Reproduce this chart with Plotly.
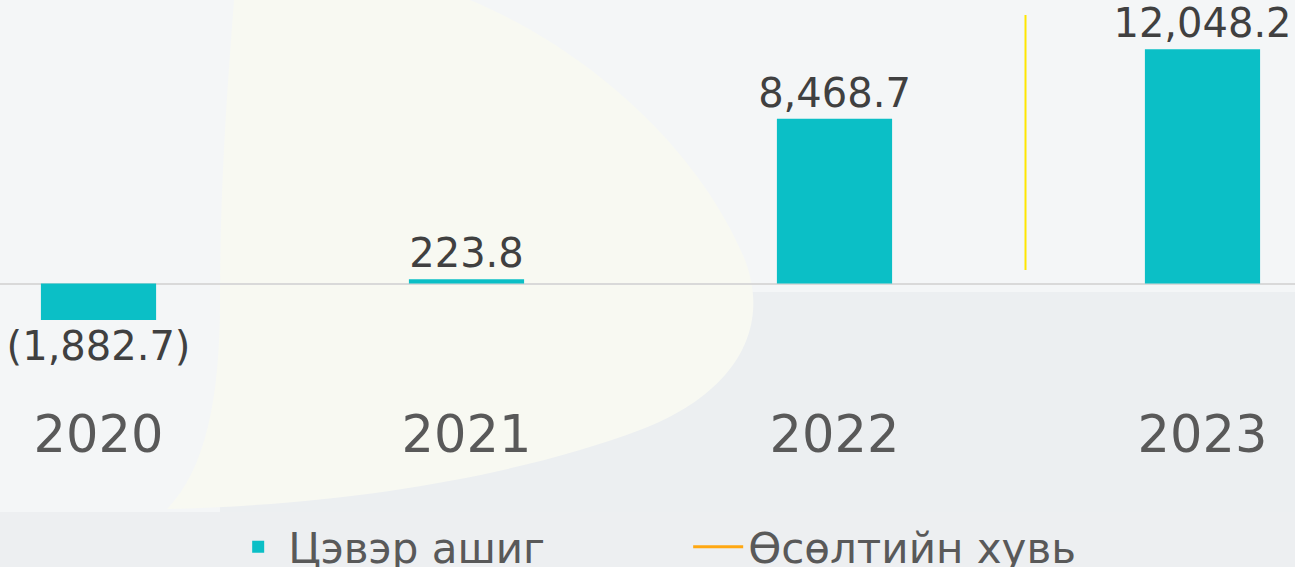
import plotly.graph_objects as go

# data
years = ['2020', '2021', '2022', '2023']
net_profit = [-1882.7, 223.8, 8468.7, 12048.2]
growth = [None, None, None, None]   # line series has no visible points in the picture

W, H = 1295, 567
PLOT_H = 400   # plot area height in px (top margin 0)

TEAL = '#0BBFC6'
ORANGE = '#FFA812'
FONT = 'DejaVu Sans'


def fmt(v):
    # negative values shown in brackets
    if v < 0:
        return '({:,.1f})'.format(abs(v))
    return '{:,.1f}'.format(v)


def pp(x, y):
    # pixel -> paper coords of the plot area
    return '{:.4f},{:.4f}'.format(x / W, 1 - y / PLOT_H)


def py(y):
    return 1 - y / PLOT_H


fig = go.Figure()

fig.add_trace(go.Bar(x=years,
                     y=net_profit,
                     name='Цэвэр ашиг',
                     marker=dict(color=TEAL, line=dict(width=0)),
                     text=[fmt(v) for v in net_profit],
                     textposition='outside',
                     constraintext='none',
                     cliponaxis=False,
                     textfont=dict(size=40, color='#404040', family=FONT)))

fig.add_trace(go.Scatter(x=years,
                         y=growth,
                         mode='lines',
                         name='Өсөлтийн хувь',
                         line=dict(color=ORANGE, width=3)))

# background decoration: grey areas + pale yellow blob
blob_path = ('M' + pp(234, 0) + ' L' + pp(470, 0) +
             ' C' + pp(590, 50) + ' ' + pp(700, 150) + ' ' + pp(745, 260) +
             ' C' + pp(775, 340) + ' ' + pp(720, 400) + ' ' + pp(640, 430) +
             ' C' + pp(520, 475) + ' ' + pp(350, 505) + ' ' + pp(167, 509) +
             ' C' + pp(205, 470) + ' ' + pp(220, 400) + ' ' + pp(220, 300) +
             ' C' + pp(220, 180) + ' ' + pp(228, 80) + ' ' + pp(234, 0) + ' Z')

shapes = [
    dict(type='rect', xref='paper', yref='paper', layer='below',
         x0=220 / W, x1=1, y0=py(H), y1=py(292),
         fillcolor='#ECEFF1', line=dict(width=0)),
    dict(type='rect', xref='paper', yref='paper', layer='below',
         x0=0, x1=1, y0=py(H), y1=py(512),
         fillcolor='#EDEFF1', line=dict(width=0)),
    dict(type='path', xref='paper', yref='paper', layer='below',
         path=blob_path, fillcolor='#F8F9F2', line=dict(width=0)),
    dict(type='line', xref='paper', yref='paper',
         x0=1025.5 / W, x1=1025.5 / W, y0=py(15), y1=py(270),
         line=dict(color='#FFE600', width=2)),
]

fig.update_layout(
    width=W, height=H,
    margin=dict(l=0, r=0, t=0, b=H - PLOT_H, autoexpand=False),
    paper_bgcolor='#F4F6F7',
    plot_bgcolor='rgba(0,0,0,0)',
    bargap=0.687,
    shapes=shapes,
    showlegend=True,
    legend=dict(orientation='h', x=0.1762, xanchor='left',
                y=py(547), yanchor='middle',
                font=dict(size=42, color='#595959', family=FONT),
                bgcolor='rgba(0,0,0,0)', entrywidth=395, itemwidth=50),
    font=dict(family=FONT, color='#595959'),
)

fig.update_xaxes(range=[-0.2677, 3.2514],
                 showgrid=False, showline=False, ticks='',
                 tickfont=dict(size=51, color='#595959', family=FONT),
                 ticklabelstandoff=0)

fig.update_yaxes(range=[-5990, 14576],
                 showgrid=False, showticklabels=False,
                 zeroline=True, zerolinecolor='#D9D9D9', zerolinewidth=2)

fig.write_html("out.html", config={'displayModeBar': False},
               post_script="document.body.style.margin='0px';")
